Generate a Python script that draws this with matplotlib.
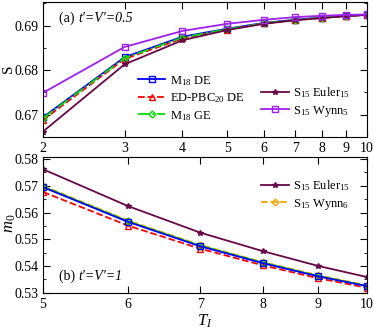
import matplotlib
matplotlib.use("Agg")
import matplotlib.pyplot as plt
from matplotlib.ticker import FixedLocator, MultipleLocator, NullLocator, NullFormatter

plt.rcParams['font.family'] = ['Liberation Serif', 'DejaVu Serif']
plt.rcParams['mathtext.fontset'] = 'custom'
plt.rcParams['mathtext.rm'] = 'Liberation Serif'
plt.rcParams['mathtext.it'] = 'Liberation Serif:italic'
plt.rcParams['mathtext.default'] = 'regular'
plt.rcParams['font.size'] = 9

# ---- panel (a): S vs T_I, t'=V'=0.5
T_a = [2, 3, 4, 5, 6, 7, 8, 9, 10]
S_m18_de = [0.6694, 0.6829, 0.6875, 0.6893, 0.6906, 0.6913, 0.6918, 0.6922, 0.6924]
S_ed_de = [0.6688, 0.6825, 0.6871, 0.6891, 0.6905, 0.6912, 0.6917, 0.6921, 0.6924]
S_m18_ge = [0.6692, 0.6827, 0.6873, 0.6892, 0.6905, 0.6913, 0.6918, 0.6922, 0.6924]
S_euler15 = [0.6662, 0.6813, 0.6867, 0.6890, 0.6904, 0.6912, 0.6917, 0.6921, 0.6924]
S_wynn5 = [0.6749, 0.6852, 0.6888, 0.6904, 0.6913, 0.6919, 0.6922, 0.6924, 0.6925]

# ---- panel (b): m0 vs T_I, t'=V'=1
T_b = [5, 6, 7, 8, 9, 10]
m_m18_de = [0.5695, 0.5565, 0.5474, 0.5411, 0.5362, 0.5325]
m_ed_de = [0.5677, 0.5551, 0.5465, 0.5403, 0.5355, 0.5319]
m_m18_ge = [0.5697, 0.5567, 0.5476, 0.5413, 0.5363, 0.5326]
m_euler15 = [0.5762, 0.5624, 0.5525, 0.5456, 0.5401, 0.5359]
m_wynn6 = [0.5700, 0.5570, 0.5479, 0.5415, 0.5366, 0.5328]

blue = '#0000ff'
red = '#ff0000'
green = '#00e000'
maroon = '#670748'
violet = '#a020f0'
orange = '#ffa500'

fig = plt.figure(figsize=(3.74, 3.29), dpi=100)
ax1 = fig.add_axes([0.115, 0.584, 0.866, 0.410])
ax2 = fig.add_axes([0.115, 0.110, 0.866, 0.413])

ms = 4
l1, = ax1.plot(T_a, S_m18_de, '-', color=blue, marker='s', mfc='none', ms=ms, lw=1.3, label='M$_{18}$ DE')
l2, = ax1.plot(T_a, S_ed_de, '--', color=red, marker='^', mfc='none', ms=ms, lw=1.3, label='ED-PBC$_{20}$ DE')
l3, = ax1.plot(T_a, S_m18_ge, '-.', color=green, marker='D', mfc='none', ms=3.5, lw=1.3, label='M$_{18}$ GE')
l4, = ax1.plot(T_a, S_euler15, '-', color=maroon, marker='*', ms=ms, lw=1.3, label='S$_{15}$ Euler$_{15}$')
l5, = ax1.plot(T_a, S_wynn5, '-', color=violet, marker='s', mfc='none', ms=ms, lw=1.3, label='S$_{15}$ Wynn$_5$')

w6, = ax2.plot(T_b, m_wynn6, '--', color=orange, marker='D', mfc='none', ms=3.5, lw=1.3, label='S$_{15}$ Wynn$_6$', zorder=2)
ax2.plot(T_b, m_ed_de, '--', color=red, marker='^', mfc='none', ms=ms, lw=1.3)
ax2.plot(T_b, m_m18_ge, '-', color=green, marker='D', mfc='none', ms=3.5, lw=1.3)
ax2.plot(T_b, m_m18_de, '-', color=blue, marker='s', mfc='none', ms=ms, lw=1.3)
e15, = ax2.plot(T_b, m_euler15, '-', color=maroon, marker='*', ms=ms, lw=1.3, label='S$_{15}$ Euler$_{15}$')

for ax in (ax1, ax2):
    ax.set_xscale('log')
    ax.tick_params(which='both', direction='in', top=True, right=True, labelsize=10)
    ax.tick_params(which='major', length=5)
    ax.tick_params(which='minor', length=2.5)
    ax.xaxis.set_minor_locator(NullLocator())
    ax.xaxis.set_minor_formatter(NullFormatter())

ax1.set_xlim(2, 10)
ax1.xaxis.set_major_locator(FixedLocator(T_a))
ax1.set_xticklabels([str(t) for t in T_a])
ax1.set_ylim(0.665, 0.6953)
ax1.yaxis.set_major_locator(FixedLocator([0.67, 0.68, 0.69]))
ax1.yaxis.set_minor_locator(MultipleLocator(0.005))
ax1.set_yticklabels(['0.67', '0.68', '0.69'])

ax2.set_xlim(5, 10)
ax2.xaxis.set_major_locator(FixedLocator(T_b))
ax2.set_xticklabels([str(t) for t in T_b])
ax2.set_ylim(0.53, 0.5808)
ax2.yaxis.set_major_locator(FixedLocator([0.53, 0.54, 0.55, 0.56, 0.57, 0.58]))
ax2.yaxis.set_minor_locator(MultipleLocator(0.005))
ax2.set_yticklabels(['0.53', '0.54', '0.55', '0.56', '0.57', '0.58'])

fig.text(0.022, 0.79, 'S', rotation=90, fontsize=11, ha='center', va='center')
fig.text(0.028, 0.32, r'$\mathit{m}_\mathit{0}$', rotation=90, fontsize=12, ha='center', va='center')
fig.text(0.548, 0.022, r'$\mathit{T}_\mathit{I}$', fontsize=12, ha='center', va='center')

t1 = ax1.text(0.05, 0.83, '(a) ', transform=ax1.transAxes, fontsize=10, va='bottom')
ax1.annotate("t'=V'=0.5", xy=(1, 0), xycoords=t1, va='bottom', fontsize=10, style='italic')
t2 = ax2.text(0.05, 0.07, '(b) ', transform=ax2.transAxes, fontsize=10, va='bottom')
ax2.annotate("t'=V'=1", xy=(1, 0), xycoords=t2, va='bottom', fontsize=10, style='italic')

kw = dict(frameon=False, fontsize=9, handlelength=2.2, handletextpad=0.35, labelspacing=0.3, borderaxespad=0.2)
leg1 = ax1.legend(handles=[l1, l2, l3], loc='lower left', bbox_to_anchor=(0.27, 0.05), **kw)
ax1.add_artist(leg1)
ax1.legend(handles=[l4, l5], loc='lower left', bbox_to_anchor=(0.65, 0.08), **kw)
ax2.legend(handles=[e15, w6], loc='upper left', bbox_to_anchor=(0.65, 0.9), **kw)

fig.savefig('out.png', dpi=100)
